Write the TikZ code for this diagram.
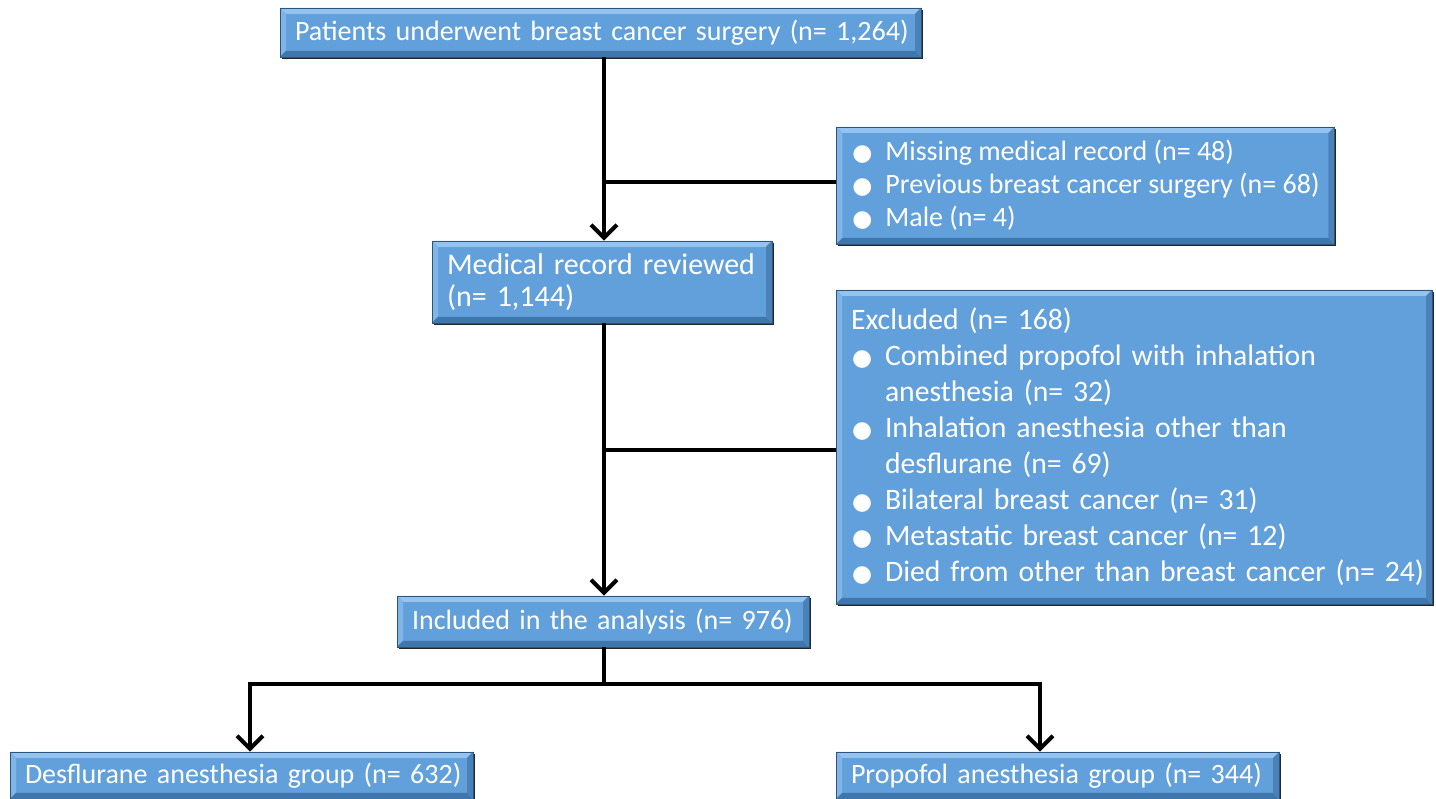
\documentclass[tikz,border=0pt]{standalone}
\usepackage{fontspec}
\setmainfont{Carlito}
\newfontfamily\dejavu{DejaVu Sans}
\usetikzlibrary{arrows.meta,calc,shadows}
\definecolor{boxfill}{HTML}{62A0DC}
\definecolor{bevtop}{HTML}{93C3EE}
\definecolor{bevleft}{HTML}{7FB5E7}
\definecolor{bevbot}{HTML}{3F76AB}
\definecolor{bevright}{HTML}{4A82B8}
\definecolor{boxline}{HTML}{2B557F}
\newcommand\bul{\makebox[34pt][l]{\hspace{1pt}{\dejavu\fontsize{23}{23}\selectfont ●}}}
\newcommand\ind{\hspace*{34pt}}
\tikzset{
  flowbox/.style={draw=boxline, line width=0.8pt, fill=boxfill, text=white,
    font=\fontsize{28}{34}\selectfont, inner xsep=15pt, inner ysep=0pt, align=left,
    drop shadow={shadow xshift=1.6pt, shadow yshift=-1.6pt, fill=black!85, opacity=1},
    path picture={
      \fill[bevtop] (path picture bounding box.north west) -- (path picture bounding box.north east)
        -- ([shift={(-6pt,-6pt)}]path picture bounding box.north east)
        -- ([shift={(6pt,-6pt)}]path picture bounding box.north west) -- cycle;
      \fill[bevleft] (path picture bounding box.north west) -- ([shift={(6pt,-6pt)}]path picture bounding box.north west)
        -- ([shift={(6pt,6pt)}]path picture bounding box.south west) -- (path picture bounding box.south west) -- cycle;
      \fill[bevbot] (path picture bounding box.south west) -- ([shift={(6pt,6pt)}]path picture bounding box.south west)
        -- ([shift={(-6pt,6pt)}]path picture bounding box.south east) -- (path picture bounding box.south east) -- cycle;
      \fill[bevright] (path picture bounding box.south east) -- ([shift={(-6pt,6pt)}]path picture bounding box.south east)
        -- ([shift={(-6pt,-6pt)}]path picture bounding box.north east) -- (path picture bounding box.north east) -- cycle;
    }},
  conn/.style={line width=4pt, draw=black, line join=miter},
  arr/.style={conn, -{Straight Barb[length=13pt,width=26pt,line width=4pt]}}
}
\begin{document}
\begin{tikzpicture}[x=1pt,y=1pt]
\useasboundingbox (0,0) rectangle (1436,799);
\fill[white] (0,0) rectangle (1436,799);

\node[flowbox, minimum width=641pt, minimum height=49pt, text width=611pt] (top) at (600.5,766.5)
  {\mbox{Patients underwent breast cancer surgery (n= 1,264)}};
\node[flowbox, anchor=west, minimum height=117pt, font=\fontsize{28}{33}\selectfont] (missing) at (836,613.5)
  {\bul Missing medical record (n= 48)\\ \bul Previous breast cancer surgery (n= 68)\\ \bul Male (n= 4)};
\node[flowbox, minimum width=340pt, minimum height=82pt, text width=310pt, font=\fontsize{30}{32}\selectfont] (medical) at (602,517)
  {\mbox{Medical record reviewed}\\ \mbox{(n= 1,144)}};
\node[flowbox, minimum width=596pt, minimum height=314pt, text width=580pt, inner xsep=8pt, font=\fontsize{29.7}{36}\selectfont] (excluded) at (1134,352)
  {\mbox{\hspace{7pt}Excluded (n= 168)}\\
   \mbox{\hspace{7pt}\bul Combined propofol with inhalation}\\
   \mbox{\hspace{7pt}\ind anesthesia (n= 32)}\\
   \mbox{\hspace{7pt}\bul Inhalation anesthesia other than}\\
   \mbox{\hspace{7pt}\ind desflurane (n= 69)}\\
   \mbox{\hspace{7pt}\bul Bilateral breast cancer (n= 31)}\\
   \mbox{\hspace{7pt}\bul Metastatic breast cancer (n= 12)}\\
   \mbox{\hspace{7pt}\bul Died from other than breast cancer (n= 24)}};
\node[flowbox, minimum width=412pt, minimum height=51pt, text width=382pt] (included) at (603,177.5)
  {\mbox{Included in the analysis (n= 976)}};
\node[flowbox, minimum width=463pt, minimum height=47pt, text width=433pt] (desfl) at (241.5,23.5)
  {\mbox{Desflurane anesthesia group (n= 632)}};
\node[flowbox, minimum width=443pt, minimum height=47pt, text width=413pt] (propofol) at (1057.5,23.5)
  {\mbox{Propofol anesthesia group (n= 344)}};

\coordinate (sp) at (604,0);
\coordinate (j1) at (604,617);
\coordinate (j2) at (604,349);
\coordinate (j3) at (604,115);
\coordinate (L) at (250,115);
\coordinate (R) at (1040,115);

\draw[arr] (top.south -| sp) -- (medical.north -| sp);
\draw[conn] (j1) -- (j1 -| missing.west);
\draw[arr] (medical.south -| sp) -- (included.north -| sp);
\draw[conn] (j2) -- (j2 -| excluded.west);
\draw[conn] (included.south -| sp) -- (j3);
\draw[arr] (j3) -- (L) -- (L |- desfl.north);
\draw[arr] (j3) -- (R) -- (R |- propofol.north);
\end{tikzpicture}
\end{document}
